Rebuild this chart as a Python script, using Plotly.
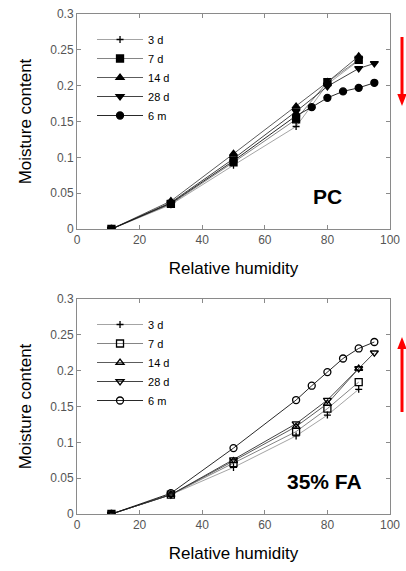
import plotly.graph_objects as go

# Relative humidity steps
rh = [11, 30, 50, 70, 80, 90]
rh_28d = [11, 30, 50, 70, 80, 90, 95]
rh_6m = [11, 30, 50, 70, 75, 80, 85, 90, 95]

# PC moisture content
pc_3d = [0.0, 0.034, 0.089, 0.143, 0.202, 0.235]
pc_7d = [0.0, 0.035, 0.093, 0.153, 0.205, 0.236]
pc_14d = [0.0, 0.039, 0.105, 0.171, 0.205, 0.241]
pc_28d = [0.0, 0.037, 0.098, 0.164, 0.199, 0.224, 0.231]
pc_6m = [0.0, 0.036, 0.095, 0.158, 0.170, 0.183, 0.192, 0.197, 0.204]

# 35% FA moisture content
fa_3d = [0.0, 0.027, 0.065, 0.109, 0.138, 0.174]
fa_7d = [0.0, 0.027, 0.071, 0.115, 0.147, 0.184]
fa_14d = [0.0, 0.027, 0.074, 0.122, 0.154, 0.203]
fa_28d = [0.0, 0.027, 0.076, 0.126, 0.159, 0.203, 0.225]
fa_6m = [0.0, 0.029, 0.092, 0.159, 0.179, 0.198, 0.217, 0.231, 0.240]

labels = ["3 d", "7 d", "14 d", "28 d", "6 m"]
line_colors = ["#9a9a9a", "#777777", "#4a4a4a", "#2e2e2e", "#111111"]

pc_series = [(rh, pc_3d), (rh, pc_7d), (rh, pc_14d), (rh_28d, pc_28d), (rh_6m, pc_6m)]
fa_series = [(rh, fa_3d), (rh, fa_7d), (rh, fa_14d), (rh_28d, fa_28d), (rh_6m, fa_6m)]

pc_symbols = ["cross-thin", "square", "triangle-up", "triangle-down", "circle"]
fa_symbols = ["cross-thin", "square-open", "triangle-up-open", "triangle-down-open", "circle-open"]
sizes = [5, 7, 7, 7, 7]

fig = go.Figure()

for i, (xs, ys) in enumerate(pc_series):
    fig.add_trace(go.Scatter(
        x=xs, y=ys, mode="lines+markers", name=labels[i],
        line=dict(color=line_colors[i], width=0.9),
        marker=dict(symbol=pc_symbols[i], size=sizes[i], color="black",
                    line=dict(color="black", width=1.3)),
        xaxis="x", yaxis="y", legend="legend",
    ))

for i, (xs, ys) in enumerate(fa_series):
    fig.add_trace(go.Scatter(
        x=xs, y=ys, mode="lines+markers", name=labels[i],
        line=dict(color=line_colors[i], width=0.9),
        marker=dict(symbol=fa_symbols[i], size=sizes[i], color="black",
                    line=dict(color="black", width=1.3)),
        xaxis="x2", yaxis="y2", legend="legend2",
    ))

ax_common = dict(
    showgrid=False, zeroline=False, showline=True, linecolor="#8a8a8a", linewidth=1,
    mirror="ticks", ticks="inside", ticklen=4, tickcolor="#8a8a8a", automargin=False,
    tickfont=dict(family="Arial, Liberation Sans", size=12, color="#555555"),
)
title_font = dict(family="Arial, Liberation Sans", size=17, color="black")

xa = dict(ax_common, range=[0, 100], dtick=20,
          title=dict(text="Relative humidity", font=title_font, standoff=15))
ya = dict(ax_common, range=[0, 0.3], dtick=0.05,
          title=dict(text="Moisture content", font=title_font, standoff=14))

legend_common = dict(
    font=dict(family="Arial, Liberation Sans", size=11, color="black"),
    bgcolor="rgba(0,0,0,0)", tracegroupgap=0, itemwidth=46,
    xanchor="left", yanchor="top",
)

# red arrows drawn as paper-space shapes outside the plot area
ax_x = (402 - 77) / 313
hw = 0.015


def py(px):
    return (514 - px) / 500


shapes = [
    dict(type="line", xref="paper", yref="paper", x0=ax_x, x1=ax_x, y0=py(37), y1=py(95),
         line=dict(color="red", width=3)),
    dict(type="path", xref="paper", yref="paper", fillcolor="red", line=dict(width=0),
         path=f"M {ax_x - hw},{py(94)} L {ax_x + hw},{py(94)} L {ax_x},{py(106)} Z"),
    dict(type="line", xref="paper", yref="paper", x0=ax_x, x1=ax_x, y0=py(412), y1=py(348),
         line=dict(color="red", width=3)),
    dict(type="path", xref="paper", yref="paper", fillcolor="red", line=dict(width=0),
         path=f"M {ax_x - hw},{py(349)} L {ax_x + hw},{py(349)} L {ax_x},{py(337)} Z"),
]

fig.update_layout(
    width=406, height=571,
    margin=dict(l=77, r=16, t=14, b=57),
    paper_bgcolor="white", plot_bgcolor="white",
    showlegend=True,
    xaxis=dict(xa, domain=[0, 1], anchor="y"),
    yaxis=dict(ya, domain=[0.57, 1.0], anchor="x"),
    xaxis2=dict(xa, domain=[0, 1], anchor="y2"),
    yaxis2=dict(ya, domain=[0.0, 0.43], anchor="x2"),
    legend=dict(legend_common, x=0.048, y=0.978),
    legend2=dict(legend_common, x=0.048, y=0.408),
    shapes=shapes,
    annotations=[
        dict(text="<b>PC</b>", x=80, y=0.045, xref="x", yref="y", showarrow=False,
             font=dict(family="Arial, Liberation Sans", size=21, color="black")),
        dict(text="<b>35% FA</b>", x=79, y=0.045, xref="x2", yref="y2", showarrow=False,
             font=dict(family="Arial, Liberation Sans", size=21, color="black")),
    ],
)

# drop the browser's default page margin so the figure sits at the window origin
fig.write_html("out.html", config={"displayModeBar": False},
               post_script="document.body.style.margin='0';")
